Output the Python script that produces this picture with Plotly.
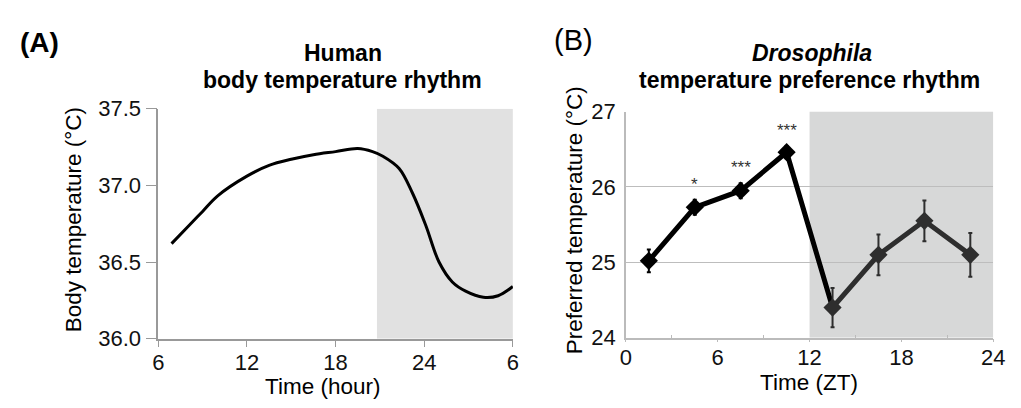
import plotly.graph_objects as go

# ---------------- data ----------------
# Panel A: human body temperature rhythm (hour of day, continuing past midnight)
human_hours = [6.9, 8, 9, 10, 12, 13.5, 15, 16.5, 18, 19.5, 20.5, 21.2, 22.3,
               23.2, 24.1, 25.0, 25.9, 26.8, 28.0, 29.0, 30.0]
human_temp = [36.62, 36.73, 36.83, 36.93, 37.06, 37.13, 37.17, 37.20, 37.22,
              37.24, 37.22, 37.19, 37.11, 36.95, 36.74, 36.50, 36.37, 36.31,
              36.27, 36.28, 36.34]
human_xticks = [6, 12, 18, 24, 30]
human_xticktext = ["6", "12", "18", "24", "6"]
human_yticks = [36.0, 36.5, 37.0, 37.5]
human_dark = [20.8, 30]

# Panel B: Drosophila temperature preference rhythm
fly_zt = [1.5, 4.5, 7.5, 10.5, 13.5, 16.5, 19.5, 22.5]
fly_temp = [25.02, 25.73, 25.95, 26.46, 24.40, 25.10, 25.55, 25.10]
fly_err = [0.15, 0.10, 0.10, 0.08, 0.26, 0.27, 0.27, 0.29]
fly_sig = ["", "*", "***", "***", "", "", "", ""]
fly_xticks = [0, 6, 12, 18, 24]
fly_yticks = [24, 25, 26, 27]
fly_dark = [12, 24]

FONT = "Liberation Sans, Arial, Helvetica, sans-serif"
W, H = 1021, 408

def px_x(p):
    return p / W

def px_y(p):
    return 1 - p / H

fig = go.Figure()

# Panel A curve
fig.add_trace(go.Scatter(
    x=human_hours, y=human_temp, mode="lines",
    line=dict(color="black", width=3, shape="spline", smoothing=1.0),
    xaxis="x", yaxis="y", showlegend=False, hoverinfo="skip"))

# Panel B: light phase (black) and dark phase (dark grey)
n_light = 5
fig.add_trace(go.Scatter(
    x=fly_zt[:n_light], y=fly_temp[:n_light], mode="lines",
    line=dict(color="black", width=5),
    xaxis="x2", yaxis="y2", showlegend=False, hoverinfo="skip"))
fig.add_trace(go.Scatter(
    x=fly_zt[n_light - 1:], y=fly_temp[n_light - 1:], mode="lines",
    line=dict(color="#2e2e2e", width=5),
    xaxis="x2", yaxis="y2", showlegend=False, hoverinfo="skip"))
fig.add_trace(go.Scatter(
    x=fly_zt[:4], y=fly_temp[:4], mode="markers",
    marker=dict(symbol="diamond", size=14, color="black"),
    error_y=dict(type="data", array=fly_err[:4], color="black", thickness=2, width=2),
    xaxis="x2", yaxis="y2", showlegend=False, hoverinfo="skip"))
fig.add_trace(go.Scatter(
    x=fly_zt[4:], y=fly_temp[4:], mode="markers",
    marker=dict(symbol="diamond", size=14, color="#2e2e2e"),
    error_y=dict(type="data", array=fly_err[4:], color="#2e2e2e", thickness=2, width=2),
    xaxis="x2", yaxis="y2", showlegend=False, hoverinfo="skip"))

shapes = [
    dict(type="rect", xref="x", yref="y", x0=human_dark[0], x1=human_dark[1],
         y0=human_yticks[0], y1=human_yticks[-1], fillcolor="#e1e1e1",
         line=dict(width=0), layer="below"),
    dict(type="rect", xref="x2", yref="y2", x0=fly_dark[0], x1=fly_dark[1],
         y0=fly_yticks[0], y1=fly_yticks[-1], fillcolor="#d7d8d8",
         line=dict(width=0), layer="below"),
]

annotations = []
# significance stars
for x, y, e, s in zip(fly_zt, fly_temp, fly_err, fly_sig):
    if s:
        annotations.append(dict(x=x, y=y + e, xref="x2", yref="y2", text=s,
                                showarrow=False, yanchor="bottom", yshift=4,
                                font=dict(family=FONT, size=17, color="#333")))

def ann(text, x, y, size, **kw):
    d = dict(text=text, x=px_x(x), y=px_y(y), xref="paper", yref="paper",
             showarrow=False, font=dict(family=FONT, size=size, color="black"))
    d.update(kw)
    annotations.append(d)

ann("<b>(A)</b>", 12, 33, 28, xanchor="left", yanchor="middle")
ann("(B)", 556, 30, 29, xanchor="left", yanchor="middle")
ann("<b>Human</b>", 343, 44, 23, xanchor="center", yanchor="middle")
ann("<b>body temperature rhythm</b>", 343, 72, 23, xanchor="center", yanchor="middle")
ann("<b><i>Drosophila</i></b>", 820, 44, 23, xanchor="center", yanchor="middle")
ann("<b>temperature preference rhythm</b>", 818, 72, 23, xanchor="center", yanchor="middle")
ann("Body temperature (°C)", 69, 221, 22.5, xanchor="center", yanchor="middle", textangle=-90)
ann("Time (hour)", 322, 399, 22.5, xanchor="center", yanchor="middle")
ann("Preferred temperature (°C)", 579, 222, 22.5, xanchor="center", yanchor="middle", textangle=-90)
ann("Time (ZT)", 817, 395, 22.5, xanchor="center", yanchor="middle")

tickfont = dict(family=FONT, size=22, color="#111")

fig.update_layout(
    width=W, height=H, margin=dict(l=0, r=0, t=0, b=0),
    paper_bgcolor="white", plot_bgcolor="rgba(0,0,0,0)",
    shapes=shapes, annotations=annotations,
    xaxis=dict(domain=[px_x(155), px_x(516)], range=[6, 30], anchor="y",
               tickvals=human_xticks, ticktext=human_xticktext,
               showgrid=False, zeroline=False, showline=True, linecolor="#999",
               linewidth=1.5, ticks="outside", ticklen=7, tickcolor="#999",
               ticklabelstandoff=-4, tickfont=tickfont),
    yaxis=dict(domain=[px_y(348), px_y(103)], range=[36, 37.5], anchor="x",
               tickvals=human_yticks, tickformat=".1f",
               showgrid=False, zeroline=False, showline=True, linecolor="#999",
               linewidth=1.5, ticks="outside", ticklen=11, tickcolor="#999",
               tickfont=tickfont),
    xaxis2=dict(domain=[px_x(631), px_x(1005)], range=[0, 24], anchor="y2",
                tickvals=fly_xticks, showgrid=False, zeroline=False,
                showline=True, linecolor="#bbb", linewidth=1.5,
                ticks="outside", ticklen=3, tickcolor="#bbb",
                minor=dict(ticks="inside", ticklen=3, tickcolor="#bbb",
                           tick0=3, dtick=6),
                ticklabelstandoff=-4, tickfont=tickfont),
    yaxis2=dict(domain=[px_y(347), px_y(106)], range=[24, 27], anchor="x2",
                tickvals=fly_yticks, showgrid=True, gridcolor="#bdbdbd",
                gridwidth=1.2, zeroline=False, showline=True, linecolor="#bbb",
                linewidth=1.5, ticks="", ticklabelstandoff=4, tickfont=tickfont),
)

fig.write_html("out.html")
